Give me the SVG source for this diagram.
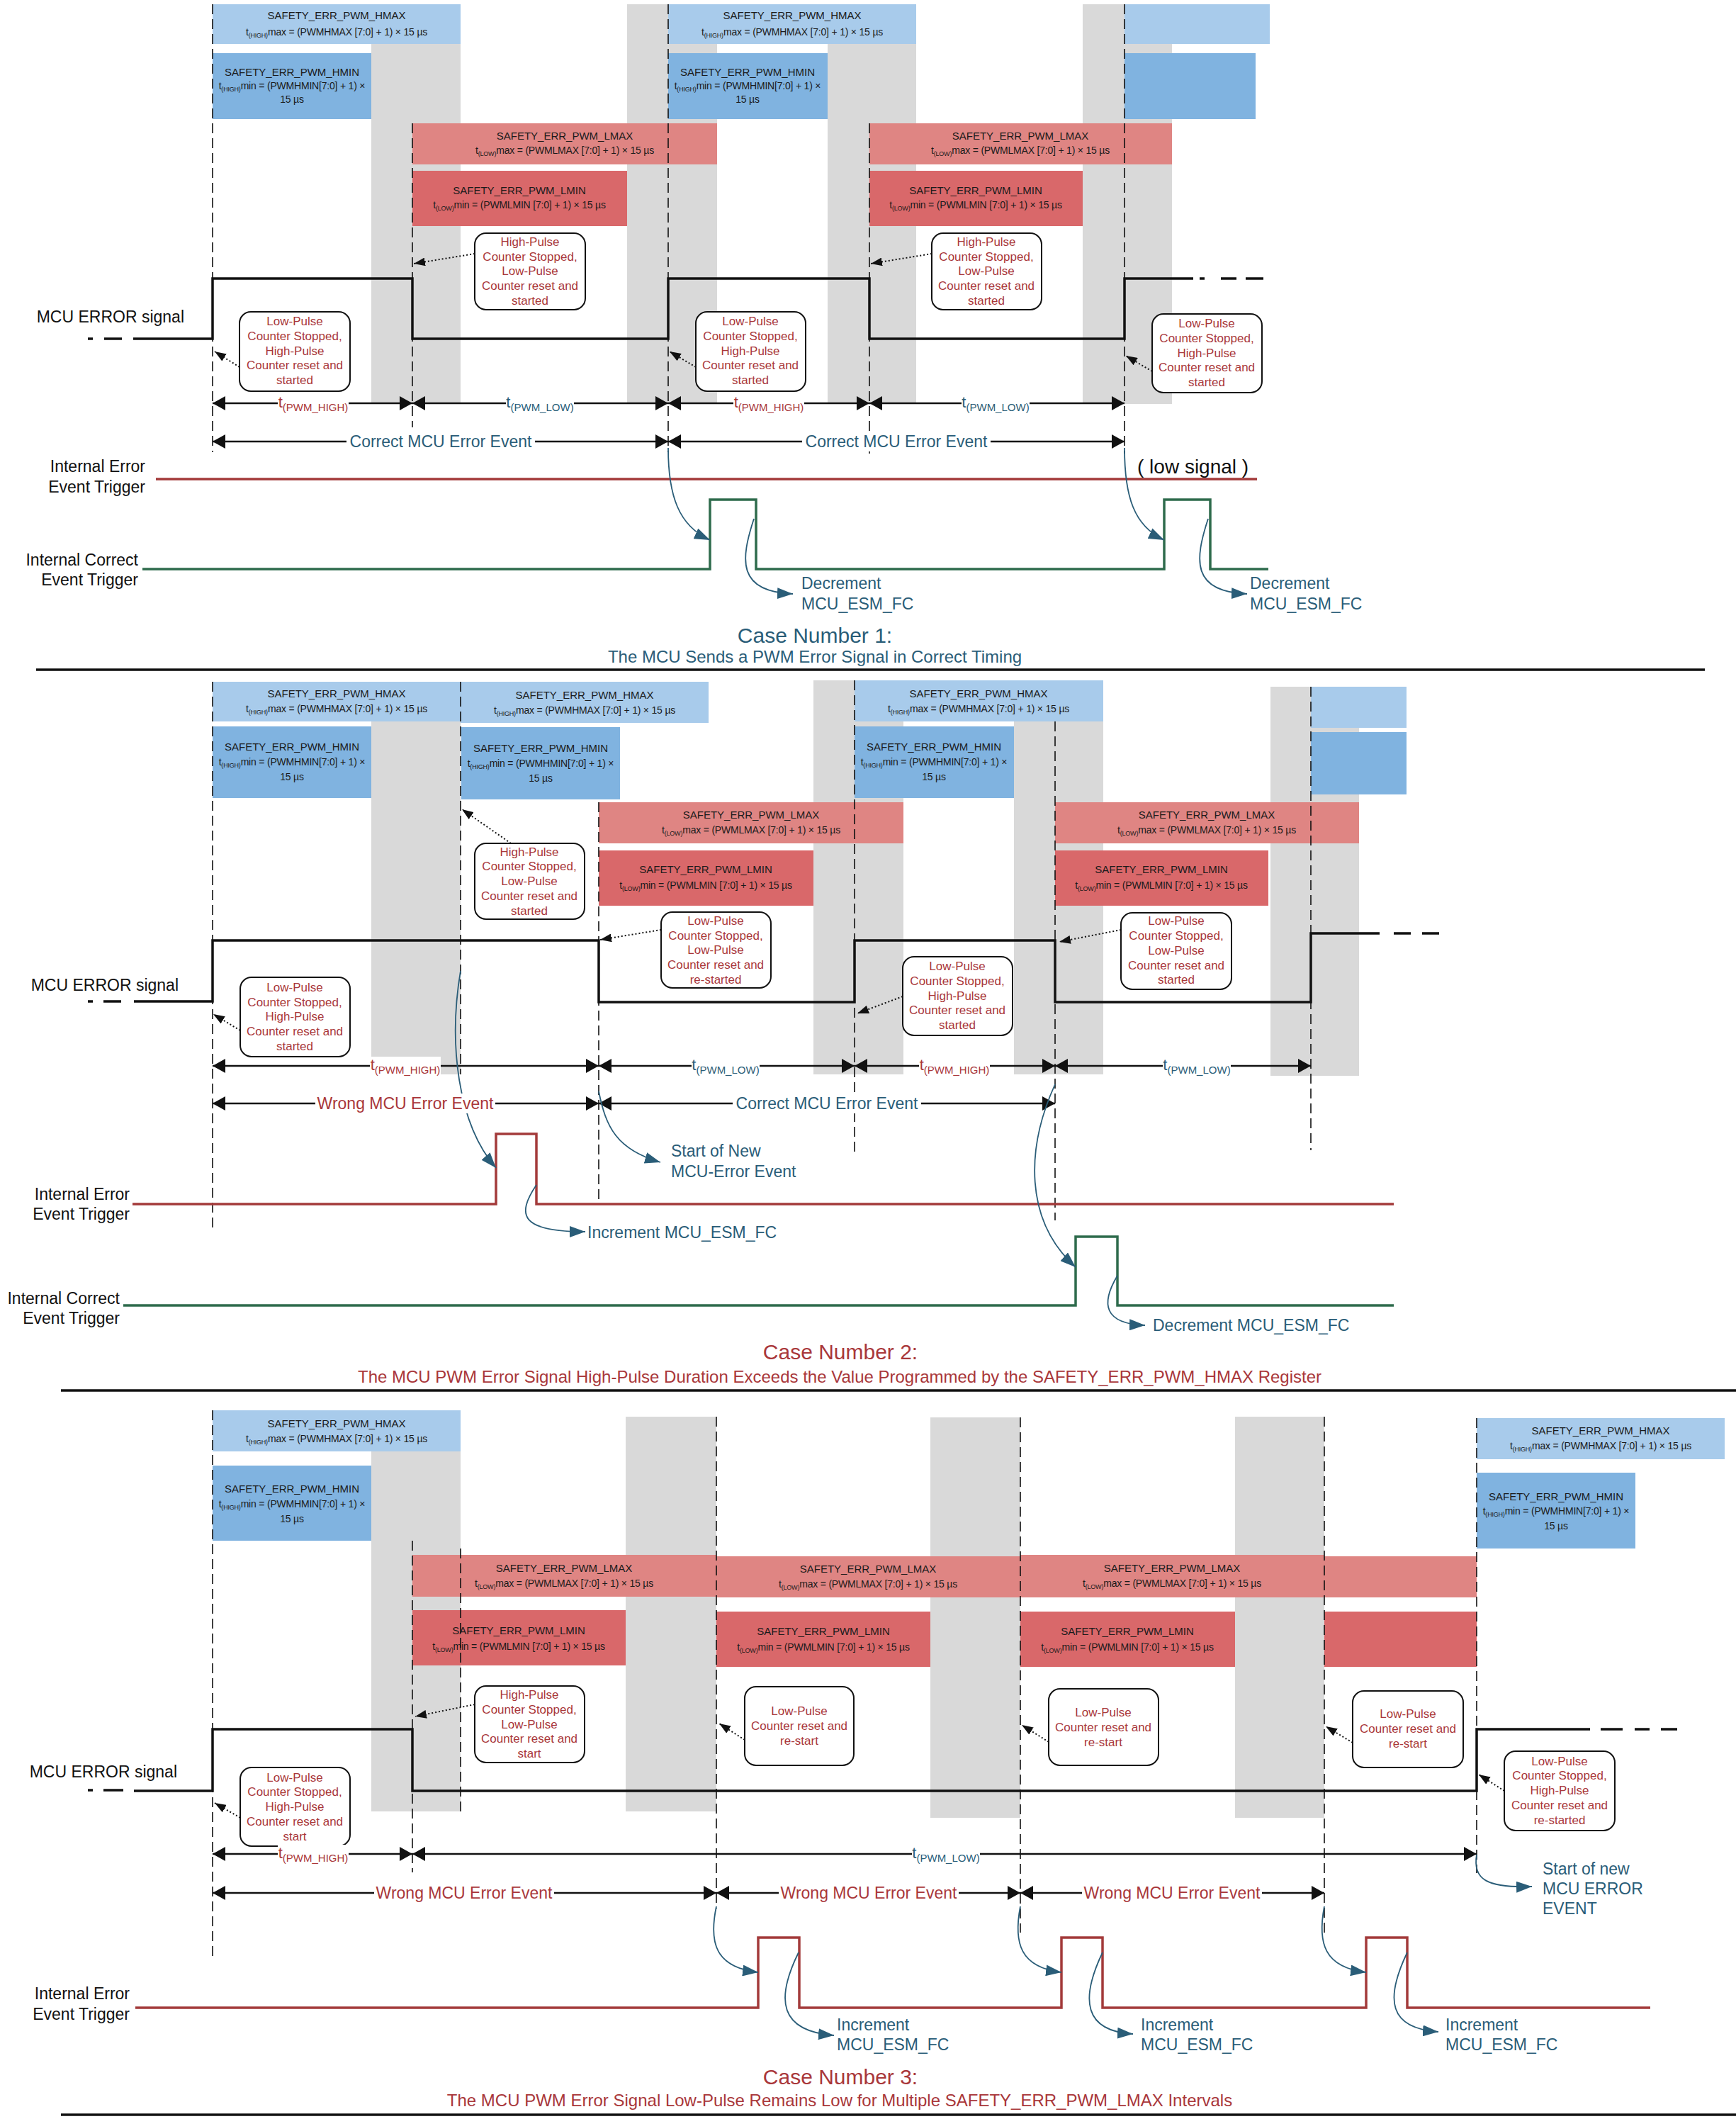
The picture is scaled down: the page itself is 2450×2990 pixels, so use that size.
<svg xmlns="http://www.w3.org/2000/svg" width="2450" height="2990" viewBox="0 0 2450 2990">
<defs>
<style>
text{font-family:"Liberation Sans",Arial,sans-serif}
.g{fill:#d9d9d9}
.hmax{fill:#a8cbeb}.hmin{fill:#80b3e0}.lmax{fill:#df8583}.lmin{fill:#d9686a}
.rt{font-size:15px;fill:#1a1a1a;text-anchor:middle}
.fm{font-size:14px;fill:#1a1a1a;text-anchor:middle;letter-spacing:-0.2px}
.sb{font-size:9px}
.cb{fill:#fff;stroke:#111;stroke-width:2}
.co{font-size:17px;fill:#a9373a;text-anchor:middle}
.lb{font-size:23px;fill:#111;text-anchor:end}
.dl{stroke:#111;stroke-width:1.6;stroke-dasharray:14 7;fill:none}
.sig{stroke:#111;stroke-width:3.5;fill:none}
.tr{stroke:#111;stroke-width:2.5;marker-start:url(#ta);marker-end:url(#ta)}
.da{stroke:#111;stroke-width:2;stroke-dasharray:2 3;fill:none;marker-end:url(#sa)}
.bc{stroke:#2a5d78;stroke-width:1.8;fill:none;marker-end:url(#ba)}
.red{fill:#a9373a}.blu{fill:#2a5d78}
.rl{stroke:#a33a3a;stroke-width:3.5;fill:none}
.gl{stroke:#2e6b4c;stroke-width:3.5;fill:none}
.wb{fill:#fff}
.tl{font-size:22px;text-anchor:middle}
.ev{font-size:23px;text-anchor:middle}
.an{font-size:23px;fill:#2a5d78}
.ct{font-size:30px;text-anchor:middle}
.cs{font-size:24px;text-anchor:middle}
.sep{stroke:#111;stroke-width:3.5}
</style>
<marker id="ta" markerUnits="userSpaceOnUse" markerWidth="18" markerHeight="20" refX="18" refY="10" orient="auto-start-reverse"><path d="M0,0 L18,10 L0,20 z" fill="#111"/></marker>
<marker id="sa" markerUnits="userSpaceOnUse" markerWidth="16" markerHeight="12" refX="16" refY="6" orient="auto"><path d="M0,0 L16,6 L0,12 z" fill="#111"/></marker>
<marker id="ba" markerUnits="userSpaceOnUse" markerWidth="22" markerHeight="16" refX="22" refY="8" orient="auto"><path d="M0,0 L22,8 L0,16 z" fill="#2a5d78"/></marker>
</defs>
<rect width="2450" height="2990" fill="#fff"/>

<!-- ================= CASE 1 ================= -->
<g id="case1-bands">
<rect class="g" x="524" y="6" width="126" height="564"/>
<rect class="g" x="885" y="6" width="127" height="564"/>
<rect class="g" x="1168" y="6" width="125" height="564"/>
<rect class="g" x="1528" y="6" width="126" height="564"/>
</g>
<g id="c1-hmax1"><rect class="hmax" x="300" y="6" width="350" height="56"/>
<text class="rt" x="475" y="27">SAFETY_ERR_PWM_HMAX</text>
<text class="fm" x="475" y="50">t<tspan class="sb" dy="3">(HIGH)</tspan><tspan dy="-3">max = (PWMHMAX [7:0] + 1) × 15 µs</tspan></text></g>
<g id="c1-hmin1"><rect class="hmin" x="300" y="75" width="224" height="93"/>
<text class="rt" x="412" y="107">SAFETY_ERR_PWM_HMIN</text>
<text class="fm" x="412" y="126">t<tspan class="sb" dy="3">(HIGH)</tspan><tspan dy="-3">min = (PWMHMIN[7:0] + 1) ×</tspan></text>
<text class="fm" x="412" y="145">15 µs</text></g>
<g id="c1-lmax1"><rect class="lmax" x="582" y="174" width="430" height="58"/>
<text class="rt" x="797" y="197">SAFETY_ERR_PWM_LMAX</text>
<text class="fm" x="797" y="217">t<tspan class="sb" dy="3">(LOW)</tspan><tspan dy="-3">max = (PWMLMAX [7:0] + 1) × 15 µs</tspan></text></g>
<g id="c1-lmin1"><rect class="lmin" x="582" y="241" width="303" height="78"/>
<text class="rt" x="733" y="274">SAFETY_ERR_PWM_LMIN</text>
<text class="fm" x="733" y="294">t<tspan class="sb" dy="3">(LOW)</tspan><tspan dy="-3">min = (PWMLMIN [7:0] + 1) × 15 µs</tspan></text></g>
<g id="c1-hmax2"><rect class="hmax" x="943" y="6" width="350" height="56"/>
<text class="rt" x="1118" y="27">SAFETY_ERR_PWM_HMAX</text>
<text class="fm" x="1118" y="50">t<tspan class="sb" dy="3">(HIGH)</tspan><tspan dy="-3">max = (PWMHMAX [7:0] + 1) × 15 µs</tspan></text></g>
<g id="c1-hmin2"><rect class="hmin" x="943" y="75" width="225" height="93"/>
<text class="rt" x="1055" y="107">SAFETY_ERR_PWM_HMIN</text>
<text class="fm" x="1055" y="126">t<tspan class="sb" dy="3">(HIGH)</tspan><tspan dy="-3">min = (PWMHMIN[7:0] + 1) ×</tspan></text>
<text class="fm" x="1055" y="145">15 µs</text></g>
<g id="c1-lmax2"><rect class="lmax" x="1227" y="174" width="427" height="58"/>
<text class="rt" x="1440" y="197">SAFETY_ERR_PWM_LMAX</text>
<text class="fm" x="1440" y="217">t<tspan class="sb" dy="3">(LOW)</tspan><tspan dy="-3">max = (PWMLMAX [7:0] + 1) × 15 µs</tspan></text></g>
<g id="c1-lmin2"><rect class="lmin" x="1227" y="241" width="301" height="78"/>
<text class="rt" x="1377" y="274">SAFETY_ERR_PWM_LMIN</text>
<text class="fm" x="1377" y="294">t<tspan class="sb" dy="3">(LOW)</tspan><tspan dy="-3">min = (PWMLMIN [7:0] + 1) × 15 µs</tspan></text></g>
<g id="c1-hmax3"><rect class="hmax" x="1587" y="6" width="205" height="56"/></g>
<g id="c1-hmin3"><rect class="hmin" x="1587" y="75" width="185" height="93"/></g>

<g id="c1-dashes">
<path class="dl" d="M300,6 V638 M582,174 V603 M943,6 V638 M1227,174 V640 M1587,6 V640"/>
</g>

<g id="c1-signal">
<path class="sig" d="M188,478 H300 V393 H582 V478 H943 V393 H1227 V478 H1587 V393 H1684"/>
<path class="sig" d="M124,478 H131 M147,478 H172 M1693,393 H1700 M1723,393 H1745 M1758,393 H1783"/>
<text class="lb" x="260" y="455">MCU ERROR signal</text>
</g>

<g id="c1-callA"><rect class="cb" x="338" y="440" width="156" height="112" rx="16"/>
<text class="co"><tspan x="416" y="459">Low-Pulse</tspan><tspan x="416" y="480">Counter Stopped,</tspan><tspan x="416" y="501">High-Pulse</tspan><tspan x="416" y="521">Counter reset and</tspan><tspan x="416" y="542">started</tspan></text></g>
<g id="c1-callB"><rect class="cb" x="670" y="329" width="156" height="108" rx="16"/>
<text class="co"><tspan x="748" y="347">High-Pulse</tspan><tspan x="748" y="368">Counter Stopped,</tspan><tspan x="748" y="388">Low-Pulse</tspan><tspan x="748" y="409">Counter reset and</tspan><tspan x="748" y="430">started</tspan></text></g>
<g id="c1-callC"><rect class="cb" x="982" y="440" width="155" height="112" rx="16"/>
<text class="co"><tspan x="1059" y="459">Low-Pulse</tspan><tspan x="1059" y="480">Counter Stopped,</tspan><tspan x="1059" y="501">High-Pulse</tspan><tspan x="1059" y="521">Counter reset and</tspan><tspan x="1059" y="542">started</tspan></text></g>
<g id="c1-callD"><rect class="cb" x="1315" y="329" width="155" height="108" rx="16"/>
<text class="co"><tspan x="1392" y="347">High-Pulse</tspan><tspan x="1392" y="368">Counter Stopped,</tspan><tspan x="1392" y="388">Low-Pulse</tspan><tspan x="1392" y="409">Counter reset and</tspan><tspan x="1392" y="430">started</tspan></text></g>
<g id="c1-callE"><rect class="cb" x="1626" y="443" width="155" height="111" rx="16"/>
<text class="co"><tspan x="1703" y="462">Low-Pulse</tspan><tspan x="1703" y="483">Counter Stopped,</tspan><tspan x="1703" y="504">High-Pulse</tspan><tspan x="1703" y="524">Counter reset and</tspan><tspan x="1703" y="545">started</tspan></text></g>

<g id="c1-errtrig">
<text class="lb" x="205" y="666">Internal Error</text>
<text class="lb" x="205" y="695">Event Trigger</text>
<path class="rl" d="M220,676 H1774"/>
<text x="1605" y="668" style="font-size:28px;fill:#111">( low signal )</text>
</g>
<g id="c1-cortrig">
<text class="lb" x="195" y="798">Internal Correct</text>
<text class="lb" x="195" y="826">Event Trigger</text>
<path class="gl" d="M201,803 H1002 V705 H1067 V803 H1643 V705 H1708 V803 H1790"/>
<text class="an" x="1131" y="831">Decrement</text>
<text class="an" x="1131" y="860">MCU_ESM_FC</text>
<text class="an" x="1764" y="831">Decrement</text>
<text class="an" x="1764" y="860">MCU_ESM_FC</text>
</g>

<g id="c1-title">
<text class="ct blu" x="1150" y="907">Case Number 1:</text>
<text class="cs blu" x="1150" y="935">The MCU Sends a PWM Error Signal in Correct Timing</text>
<path class="sep" d="M51,945 H2406"/>
</g>

<!-- ================= CASE 2 ================= -->
<g id="case2-bands">
<rect class="g" x="524" y="962" width="126" height="554"/>
<rect class="g" x="1148" y="960" width="127" height="556"/>
<rect class="g" x="1431" y="960" width="126" height="556"/>
<rect class="g" x="1793" y="969" width="125" height="549"/>
</g>
<g id="c2-hmax1"><rect class="hmax" x="300" y="962" width="350" height="56"/>
<text class="rt" x="475" y="984">SAFETY_ERR_PWM_HMAX</text>
<text class="fm" x="475" y="1005">t<tspan class="sb" dy="3">(HIGH)</tspan><tspan dy="-3">max = (PWMHMAX [7:0] + 1) × 15 µs</tspan></text></g>
<g id="c2-hmax2"><rect class="hmax" x="650" y="962" width="350" height="58"/>
<text class="rt" x="825" y="986">SAFETY_ERR_PWM_HMAX</text>
<text class="fm" x="825" y="1007">t<tspan class="sb" dy="3">(HIGH)</tspan><tspan dy="-3">max = (PWMHMAX [7:0] + 1) × 15 µs</tspan></text></g>
<g id="c2-hmin1"><rect class="hmin" x="300" y="1025" width="224" height="101"/>
<text class="rt" x="412" y="1059">SAFETY_ERR_PWM_HMIN</text>
<text class="fm" x="412" y="1080">t<tspan class="sb" dy="3">(HIGH)</tspan><tspan dy="-3">min = (PWMHMIN[7:0] + 1) ×</tspan></text>
<text class="fm" x="412" y="1101">15 µs</text></g>
<g id="c2-hmin2"><rect class="hmin" x="651" y="1026" width="224" height="102"/>
<text class="rt" x="763" y="1061">SAFETY_ERR_PWM_HMIN</text>
<text class="fm" x="763" y="1082">t<tspan class="sb" dy="3">(HIGH)</tspan><tspan dy="-3">min = (PWMHMIN[7:0] + 1) ×</tspan></text>
<text class="fm" x="763" y="1103">15 µs</text></g>
<g id="c2-lmax1"><rect class="lmax" x="845" y="1132" width="430" height="58"/>
<text class="rt" x="1060" y="1155">SAFETY_ERR_PWM_LMAX</text>
<text class="fm" x="1060" y="1176">t<tspan class="sb" dy="3">(LOW)</tspan><tspan dy="-3">max = (PWMLMAX [7:0] + 1) × 15 µs</tspan></text></g>
<g id="c2-lmin1"><rect class="lmin" x="845" y="1200" width="303" height="78"/>
<text class="rt" x="996" y="1232">SAFETY_ERR_PWM_LMIN</text>
<text class="fm" x="996" y="1254">t<tspan class="sb" dy="3">(LOW)</tspan><tspan dy="-3">min = (PWMLMIN [7:0] + 1) × 15 µs</tspan></text></g>
<g id="c2-hmax3"><rect class="hmax" x="1206" y="960" width="351" height="58"/>
<text class="rt" x="1381" y="984">SAFETY_ERR_PWM_HMAX</text>
<text class="fm" x="1381" y="1005">t<tspan class="sb" dy="3">(HIGH)</tspan><tspan dy="-3">max = (PWMHMAX [7:0] + 1) × 15 µs</tspan></text></g>
<g id="c2-hmin3"><rect class="hmin" x="1206" y="1025" width="225" height="101"/>
<text class="rt" x="1318" y="1059">SAFETY_ERR_PWM_HMIN</text>
<text class="fm" x="1318" y="1080">t<tspan class="sb" dy="3">(HIGH)</tspan><tspan dy="-3">min = (PWMHMIN[7:0] + 1) ×</tspan></text>
<text class="fm" x="1318" y="1101">15 µs</text></g>
<g id="c2-lmax2"><rect class="lmax" x="1489" y="1132" width="429" height="58"/>
<text class="rt" x="1703" y="1155">SAFETY_ERR_PWM_LMAX</text>
<text class="fm" x="1703" y="1176">t<tspan class="sb" dy="3">(LOW)</tspan><tspan dy="-3">max = (PWMLMAX [7:0] + 1) × 15 µs</tspan></text></g>
<g id="c2-lmin2"><rect class="lmin" x="1489" y="1200" width="301" height="78"/>
<text class="rt" x="1639" y="1232">SAFETY_ERR_PWM_LMIN</text>
<text class="fm" x="1639" y="1254">t<tspan class="sb" dy="3">(LOW)</tspan><tspan dy="-3">min = (PWMLMIN [7:0] + 1) × 15 µs</tspan></text></g>
<g id="c2-hmax4"><rect class="hmax" x="1850" y="969" width="135" height="58"/></g>
<g id="c2-hmin4"><rect class="hmin" x="1850" y="1033" width="135" height="88"/></g>

<g id="c2-dashes">
<path class="dl" d="M300,962 V1733 M650,962 V1516 M845,1132 V1697 M1206,960 V1625 M1489,1018 V1722 M1850,969 V1623"/>
</g>

<g id="c2-signal">
<path class="sig" d="M189,1413 H300 V1327 H845 V1414 H1206 V1327 H1489 V1414 H1850 V1317 H1947"/>
<path class="sig" d="M124,1413 H131 M146,1413 H171 M1967,1317 H1991 M2007,1317 H2031"/>
<text class="lb" x="252" y="1398">MCU ERROR signal</text>
</g>

<g id="c2-callF"><rect class="cb" x="339" y="1379" width="155" height="112" rx="16"/>
<text class="co"><tspan x="416" y="1399">Low-Pulse</tspan><tspan x="416" y="1420">Counter Stopped,</tspan><tspan x="416" y="1440">High-Pulse</tspan><tspan x="416" y="1461">Counter reset and</tspan><tspan x="416" y="1482">started</tspan></text></g>
<g id="c2-callG"><rect class="cb" x="670" y="1190" width="155" height="107" rx="16"/>
<text class="co"><tspan x="747" y="1208">High-Pulse</tspan><tspan x="747" y="1228">Counter Stopped,</tspan><tspan x="747" y="1249">Low-Pulse</tspan><tspan x="747" y="1270">Counter reset and</tspan><tspan x="747" y="1291">started</tspan></text></g>
<g id="c2-callH"><rect class="cb" x="933" y="1287" width="155" height="107" rx="16"/>
<text class="co"><tspan x="1010" y="1305">Low-Pulse</tspan><tspan x="1010" y="1326">Counter Stopped,</tspan><tspan x="1010" y="1346">Low-Pulse</tspan><tspan x="1010" y="1367">Counter reset and</tspan><tspan x="1010" y="1388">re-started</tspan></text></g>
<g id="c2-callI"><rect class="cb" x="1274" y="1350" width="155" height="111" rx="16"/>
<text class="co"><tspan x="1351" y="1369">Low-Pulse</tspan><tspan x="1351" y="1390">Counter Stopped,</tspan><tspan x="1351" y="1411">High-Pulse</tspan><tspan x="1351" y="1431">Counter reset and</tspan><tspan x="1351" y="1452">started</tspan></text></g>
<g id="c2-callJ"><rect class="cb" x="1582" y="1288" width="156" height="108" rx="16"/>
<text class="co"><tspan x="1660" y="1305">Low-Pulse</tspan><tspan x="1660" y="1326">Counter Stopped,</tspan><tspan x="1660" y="1347">Low-Pulse</tspan><tspan x="1660" y="1368">Counter reset and</tspan><tspan x="1660" y="1388">started</tspan></text></g>

<g id="c2-errtrig">
<text class="lb" x="183" y="1693">Internal Error</text>
<text class="lb" x="183" y="1721">Event Trigger</text>
<path class="rl" d="M187,1699 H700 V1600 H757 V1699 H1967"/>
<text class="an" x="829" y="1747">Increment MCU_ESM_FC</text>
<text class="an" x="947" y="1632">Start of New</text>
<text class="an" x="947" y="1661">MCU-Error Event</text>
</g>
<g id="c2-cortrig">
<text class="lb" x="169" y="1840">Internal Correct</text>
<text class="lb" x="169" y="1868">Event Trigger</text>
<path class="gl" d="M174,1842 H1518 V1745 H1577 V1842 H1967"/>
<text class="an" x="1627" y="1878">Decrement MCU_ESM_FC</text>
</g>

<g id="c2-title">
<text class="ct red" x="1186" y="1918">Case Number 2:</text>
<text class="cs red" x="1185" y="1951">The MCU PWM Error Signal High-Pulse Duration Exceeds the Value Programmed by the SAFETY_ERR_PWM_HMAX Register</text>
<path class="sep" d="M86,1962 H2450"/>
</g>

<!-- ================= CASE 3 ================= -->
<g id="case3-bands">
<rect class="g" x="524" y="1990" width="126" height="566"/>
<rect class="g" x="883" y="1999" width="128" height="557"/>
<rect class="g" x="1313" y="2000" width="127" height="565"/>
<rect class="g" x="1743" y="1999" width="126" height="566"/>
</g>
<g id="c3-hmax1"><rect class="hmax" x="300" y="1990" width="350" height="58"/>
<text class="rt" x="475" y="2014">SAFETY_ERR_PWM_HMAX</text>
<text class="fm" x="475" y="2035">t<tspan class="sb" dy="3">(HIGH)</tspan><tspan dy="-3">max = (PWMHMAX [7:0] + 1) × 15 µs</tspan></text></g>
<g id="c3-hmin1"><rect class="hmin" x="300" y="2068" width="224" height="106"/>
<text class="rt" x="412" y="2106">SAFETY_ERR_PWM_HMIN</text>
<text class="fm" x="412" y="2127">t<tspan class="sb" dy="3">(HIGH)</tspan><tspan dy="-3">min = (PWMHMIN[7:0] + 1) ×</tspan></text>
<text class="fm" x="412" y="2148">15 µs</text></g>
<g id="c3-lmax1"><rect class="lmax" x="582" y="2194" width="429" height="59"/>
<text class="rt" x="796" y="2218">SAFETY_ERR_PWM_LMAX</text>
<text class="fm" x="796" y="2239">t<tspan class="sb" dy="3">(LOW)</tspan><tspan dy="-3">max = (PWMLMAX [7:0] + 1) × 15 µs</tspan></text></g>
<g id="c3-lmin1"><rect class="lmin" x="582" y="2272" width="301" height="78"/>
<text class="rt" x="732" y="2306">SAFETY_ERR_PWM_LMIN</text>
<text class="fm" x="732" y="2328">t<tspan class="sb" dy="3">(LOW)</tspan><tspan dy="-3">min = (PWMLMIN [7:0] + 1) × 15 µs</tspan></text></g>
<g id="c3-lmax2"><rect class="lmax" x="1011" y="2196" width="429" height="58"/>
<text class="rt" x="1225" y="2219">SAFETY_ERR_PWM_LMAX</text>
<text class="fm" x="1225" y="2240">t<tspan class="sb" dy="3">(LOW)</tspan><tspan dy="-3">max = (PWMLMAX [7:0] + 1) × 15 µs</tspan></text></g>
<g id="c3-lmin2"><rect class="lmin" x="1011" y="2274" width="302" height="78"/>
<text class="rt" x="1162" y="2307">SAFETY_ERR_PWM_LMIN</text>
<text class="fm" x="1162" y="2329">t<tspan class="sb" dy="3">(LOW)</tspan><tspan dy="-3">min = (PWMLMIN [7:0] + 1) × 15 µs</tspan></text></g>
<g id="c3-lmax3"><rect class="lmax" x="1440" y="2194" width="429" height="60"/>
<text class="rt" x="1654" y="2218">SAFETY_ERR_PWM_LMAX</text>
<text class="fm" x="1654" y="2239">t<tspan class="sb" dy="3">(LOW)</tspan><tspan dy="-3">max = (PWMLMAX [7:0] + 1) × 15 µs</tspan></text></g>
<g id="c3-lmin3"><rect class="lmin" x="1440" y="2274" width="303" height="78"/>
<text class="rt" x="1591" y="2307">SAFETY_ERR_PWM_LMIN</text>
<text class="fm" x="1591" y="2329">t<tspan class="sb" dy="3">(LOW)</tspan><tspan dy="-3">min = (PWMLMIN [7:0] + 1) × 15 µs</tspan></text></g>
<g id="c3-lmax4"><rect class="lmax" x="1869" y="2196" width="215" height="58"/></g>
<g id="c3-lmin4"><rect class="lmin" x="1869" y="2274" width="215" height="78"/></g>
<g id="c3-hmax2"><rect class="hmax" x="2084" y="2001" width="350" height="58"/>
<text class="rt" x="2259" y="2024">SAFETY_ERR_PWM_HMAX</text>
<text class="fm" x="2259" y="2045">t<tspan class="sb" dy="3">(HIGH)</tspan><tspan dy="-3">max = (PWMHMAX [7:0] + 1) × 15 µs</tspan></text></g>
<g id="c3-hmin2"><rect class="hmin" x="2084" y="2078" width="224" height="107"/>
<text class="rt" x="2196" y="2117">SAFETY_ERR_PWM_HMIN</text>
<text class="fm" x="2196" y="2137">t<tspan class="sb" dy="3">(HIGH)</tspan><tspan dy="-3">min = (PWMHMIN[7:0] + 1) ×</tspan></text>
<text class="fm" x="2196" y="2158">15 µs</text></g>

<g id="c3-dashes">
<path class="dl" d="M300,1990 V2763 M582,2174 V2642 M650,2185 V2556 M1011,1999 V2693 M1440,2000 V2727 M1869,1999 V2727 M2084,2001 V2643"/>
</g>

<g id="c3-signal">
<path class="sig" d="M189,2527 H300 V2440 H582 V2527 H2084 V2440 H2244"/>
<path class="sig" d="M124,2526 H131 M146,2526 H174 M2259,2440 H2290 M2307,2440 H2328 M2344,2440 H2367"/>
<text class="lb" x="250" y="2508">MCU ERROR signal</text>
</g>

<g id="c3-callK"><rect class="cb" x="339" y="2494" width="155" height="111" rx="16"/>
<text class="co"><tspan x="416" y="2514">Low-Pulse</tspan><tspan x="416" y="2534">Counter Stopped,</tspan><tspan x="416" y="2555">High-Pulse</tspan><tspan x="416" y="2576">Counter reset and</tspan><tspan x="416" y="2597">start</tspan></text></g>
<g id="c3-callL"><rect class="cb" x="670" y="2379" width="155" height="108" rx="16"/>
<text class="co"><tspan x="747" y="2397">High-Pulse</tspan><tspan x="747" y="2418">Counter Stopped,</tspan><tspan x="747" y="2439">Low-Pulse</tspan><tspan x="747" y="2459">Counter reset and</tspan><tspan x="747" y="2480">start</tspan></text></g>
<g id="c3-callM"><rect class="cb" x="1051" y="2380" width="154" height="111" rx="16"/>
<text class="co"><tspan x="1128" y="2420">Low-Pulse</tspan><tspan x="1128" y="2441">Counter reset and</tspan><tspan x="1128" y="2462">re-start</tspan></text></g>
<g id="c3-callN"><rect class="cb" x="1480" y="2383" width="155" height="108" rx="16"/>
<text class="co"><tspan x="1557" y="2422">Low-Pulse</tspan><tspan x="1557" y="2443">Counter reset and</tspan><tspan x="1557" y="2464">re-start</tspan></text></g>
<g id="c3-callO"><rect class="cb" x="1909" y="2386" width="156" height="108" rx="16"/>
<text class="co"><tspan x="1987" y="2424">Low-Pulse</tspan><tspan x="1987" y="2445">Counter reset and</tspan><tspan x="1987" y="2466">re-start</tspan></text></g>
<g id="c3-callP"><rect class="cb" x="2123" y="2471" width="156" height="112" rx="16"/>
<text class="co"><tspan x="2201" y="2491">Low-Pulse</tspan><tspan x="2201" y="2511">Counter Stopped,</tspan><tspan x="2201" y="2532">High-Pulse</tspan><tspan x="2201" y="2553">Counter reset and</tspan><tspan x="2201" y="2574">re-started</tspan></text></g>

<g id="c3-errtrig">
<text class="lb" x="183" y="2821">Internal Error</text>
<text class="lb" x="183" y="2850">Event Trigger</text>
<path class="rl" d="M191,2833 H1070 V2734 H1128 V2833 H1498 V2734 H1556 V2833 H1928 V2734 H1986 V2833 H2329"/>
<text class="an" x="1181" y="2865">Increment</text>
<text class="an" x="1181" y="2893">MCU_ESM_FC</text>
<text class="an" x="1610" y="2865">Increment</text>
<text class="an" x="1610" y="2893">MCU_ESM_FC</text>
<text class="an" x="2040" y="2865">Increment</text>
<text class="an" x="2040" y="2893">MCU_ESM_FC</text>
<text class="an" x="2177" y="2645">Start of new</text>
<text class="an" x="2177" y="2673">MCU ERROR</text>
<text class="an" x="2177" y="2701">EVENT</text>
</g>

<g id="c3-title">
<text class="ct red" x="1186" y="2941">Case Number 3:</text>
<text class="cs red" x="1185" y="2972">The MCU PWM Error Signal Low-Pulse Remains Low for Multiple SAFETY_ERR_PWM_LMAX Intervals</text>
<path class="sep" d="M86,2984 H2450"/>
</g>

<!-- ================= CONNECTORS ================= -->
<g id="connectors">
<line class="tr" x1="300" y1="569" x2="582" y2="569"/>
<line class="tr" x1="582" y1="569" x2="943" y2="569"/>
<line class="tr" x1="943" y1="569" x2="1227" y2="569"/>
<line class="tr" x1="1227" y1="569" x2="1587" y2="569"/>
<line class="tr" x1="300" y1="623" x2="943" y2="623"/>
<line class="tr" x1="943" y1="623" x2="1587" y2="623"/>
<line class="tr" x1="300" y1="1504" x2="845" y2="1504"/>
<line class="tr" x1="845" y1="1504" x2="1206" y2="1504"/>
<line class="tr" x1="1206" y1="1504" x2="1489" y2="1504"/>
<line class="tr" x1="1489" y1="1504" x2="1850" y2="1504"/>
<line class="tr" x1="300" y1="1557" x2="845" y2="1557"/>
<line class="tr" x1="845" y1="1557" x2="1489" y2="1557"/>
<line class="tr" x1="300" y1="2616" x2="582" y2="2616"/>
<line class="tr" x1="582" y1="2616" x2="2084" y2="2616"/>
<line class="tr" x1="300" y1="2671" x2="1011" y2="2671"/>
<line class="tr" x1="1011" y1="2671" x2="1440" y2="2671"/>
<line class="tr" x1="1440" y1="2671" x2="1869" y2="2671"/>

<path class="da" d="M338,518 L303,496"/>
<path class="da" d="M670,358 L584,372"/>
<path class="da" d="M982,518 L945,496"/>
<path class="da" d="M1315,358 L1229,372"/>
<path class="da" d="M1626,524 L1589,502"/>
<path class="da" d="M339,1454 L301,1431"/>
<path class="da" d="M721,1190 L652,1142"/>
<path class="da" d="M933,1312 L847,1326"/>
<path class="da" d="M1274,1406 L1210,1430"/>
<path class="da" d="M1582,1312 L1495,1329"/>
<path class="da" d="M339,2565 L303,2544"/>
<path class="da" d="M670,2405 L586,2422"/>
<path class="da" d="M1051,2455 L1015,2432"/>
<path class="da" d="M1480,2458 L1442,2434"/>
<path class="da" d="M1909,2459 L1871,2436"/>
<path class="da" d="M2123,2527 L2087,2504"/>

<path class="bc" d="M943,632 C943,700 958,742 1002,762"/>
<path class="bc" d="M1064,732 C1045,790 1040,835 1119,838"/>
<path class="bc" d="M1587,632 C1587,700 1600,742 1643,762"/>
<path class="bc" d="M1705,732 C1686,790 1681,835 1760,838"/>
<path class="bc" d="M650,1370 C633,1470 645,1585 700,1648"/>
<path class="bc" d="M757,1672 C728,1715 735,1738 826,1738"/>
<path class="bc" d="M845,1540 C855,1590 870,1622 932,1640"/>
<path class="bc" d="M1489,1530 C1448,1620 1445,1722 1518,1788"/>
<path class="bc" d="M1577,1800 C1553,1840 1558,1868 1616,1870"/>
<path class="bc" d="M1011,2690 C1000,2742 1010,2776 1070,2783"/>
<path class="bc" d="M1127,2755 C1094,2822 1100,2866 1177,2872"/>
<path class="bc" d="M1440,2690 C1430,2742 1440,2776 1498,2783"/>
<path class="bc" d="M1556,2755 C1524,2822 1530,2866 1599,2870"/>
<path class="bc" d="M1869,2690 C1859,2742 1869,2776 1928,2783"/>
<path class="bc" d="M1986,2755 C1954,2822 1960,2862 2030,2867"/>
<path class="bc" d="M2084,2617 C2078,2652 2098,2664 2162,2662"/>
</g>

<g id="row-labels">
<rect class="wb" x="392" y="556" width="100" height="28"/>
<rect class="wb" x="714" y="556" width="96" height="28"/>
<rect class="wb" x="1035" y="556" width="100" height="28"/>
<rect class="wb" x="1357" y="556" width="96" height="28"/>
<rect class="wb" x="489" y="609" width="266" height="28"/>
<rect class="wb" x="1132" y="609" width="266" height="28"/>
<rect class="wb" x="522" y="1491" width="100" height="28"/>
<rect class="wb" x="976" y="1491" width="96" height="28"/>
<rect class="wb" x="1297" y="1491" width="100" height="28"/>
<rect class="wb" x="1641" y="1491" width="96" height="28"/>
<rect class="wb" x="445" y="1543" width="254" height="28"/>
<rect class="wb" x="1034" y="1543" width="266" height="28"/>
<rect class="wb" x="392" y="2603" width="100" height="28"/>
<rect class="wb" x="1287" y="2603" width="96" height="28"/>
<rect class="wb" x="528" y="2657" width="254" height="28"/>
<rect class="wb" x="1099" y="2657" width="254" height="28"/>
<rect class="wb" x="1527" y="2657" width="254" height="28"/>

<text class="tl red" x="442" y="575">t<tspan font-size="15" dy="5">(PWM_HIGH)</tspan></text>
<text class="tl blu" x="762" y="575">t<tspan font-size="15" dy="5">(PWM_LOW)</tspan></text>
<text class="tl red" x="1085" y="575">t<tspan font-size="15" dy="5">(PWM_HIGH)</tspan></text>
<text class="tl blu" x="1405" y="575">t<tspan font-size="15" dy="5">(PWM_LOW)</tspan></text>
<text class="ev blu" x="622" y="631">Correct MCU Error Event</text>
<text class="ev blu" x="1265" y="631">Correct MCU Error Event</text>

<text class="tl red" x="572" y="1510">t<tspan font-size="15" dy="5">(PWM_HIGH)</tspan></text>
<text class="tl blu" x="1024" y="1510">t<tspan font-size="15" dy="5">(PWM_LOW)</tspan></text>
<text class="tl red" x="1347" y="1510">t<tspan font-size="15" dy="5">(PWM_HIGH)</tspan></text>
<text class="tl blu" x="1689" y="1510">t<tspan font-size="15" dy="5">(PWM_LOW)</tspan></text>
<text class="ev red" x="572" y="1565">Wrong MCU Error Event</text>
<text class="ev blu" x="1167" y="1565">Correct MCU Error Event</text>

<text class="tl red" x="442" y="2622">t<tspan font-size="15" dy="5">(PWM_HIGH)</tspan></text>
<text class="tl blu" x="1335" y="2622">t<tspan font-size="15" dy="5">(PWM_LOW)</tspan></text>
<text class="ev red" x="655" y="2679">Wrong MCU Error Event</text>
<text class="ev red" x="1226" y="2679">Wrong MCU Error Event</text>
<text class="ev red" x="1654" y="2679">Wrong MCU Error Event</text>
</g>
</svg>
